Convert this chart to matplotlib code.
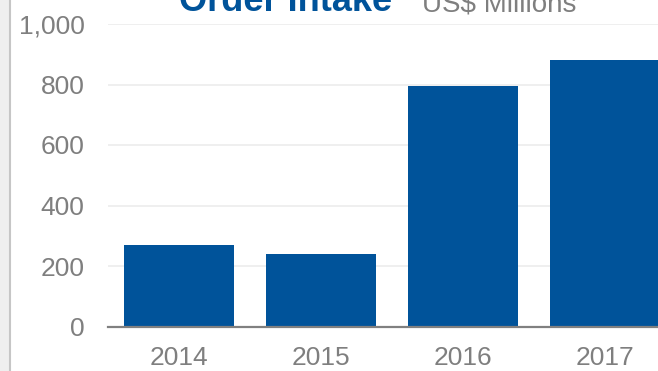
import matplotlib
matplotlib.use("Agg")
import matplotlib.pyplot as plt
from matplotlib.patches import Rectangle
from matplotlib.lines import Line2D

# order intake by year, US$ millions
years = ["2014", "2015", "2016", "2017"]
order_intake = [268, 241, 795, 881]
y_ticks = [0, 200, 400, 600, 800, 1000]

blue = "#00539a"
grey_text = "#7f7f7f"

plt.rcParams['font.family'] = ['Liberation Sans', 'DejaVu Sans']

fig = plt.figure(figsize=(6.58, 3.71), dpi=100)
ax = fig.add_axes([108 / 658, 44.5 / 371, 568 / 658, 302.5 / 371])

x = range(len(years))
ax.bar(x, order_intake, width=0.77, color=blue, zorder=3)

ax.set_xlim(-0.5, 3.5)
ax.set_ylim(0, 1000)
ax.set_xticks(list(x))
ax.set_xticklabels(years)
ax.set_yticks(y_ticks)
ax.set_yticklabels(["{:,}".format(v) for v in y_ticks])
ax.tick_params(axis='both', length=0, labelsize=19, colors=grey_text)
ax.tick_params(axis='y', pad=17)
ax.tick_params(axis='x', pad=14)

ax.grid(axis='y', color='#ececec', linewidth=1.2, zorder=0)
for s in ['left', 'right', 'top']:
    ax.spines[s].set_visible(False)
ax.spines['bottom'].set_color('#808080')
ax.spines['bottom'].set_linewidth(1.6)
ax.spines['bottom'].set_zorder(4)

# left border strip
fig.patches.append(Rectangle((0, 0), 9 / 658, 1, transform=fig.transFigure,
                             facecolor='#efefef', edgecolor='none'))
fig.lines.append(Line2D([9.5 / 658, 9.5 / 658], [0, 1], transform=fig.transFigure,
                        color='#c6c6c6', linewidth=1.5))

# title, partly above the top edge
fig.text(179 / 658, 1 - 11 / 371, "Order Intake", color=blue, fontsize=26,
         fontweight='bold', ha='left', va='baseline')
fig.text(422 / 658, 1 - 11 / 371, "US$ Millions", color=grey_text, fontsize=20,
         ha='left', va='baseline')

fig.savefig("out.png", dpi=100)
